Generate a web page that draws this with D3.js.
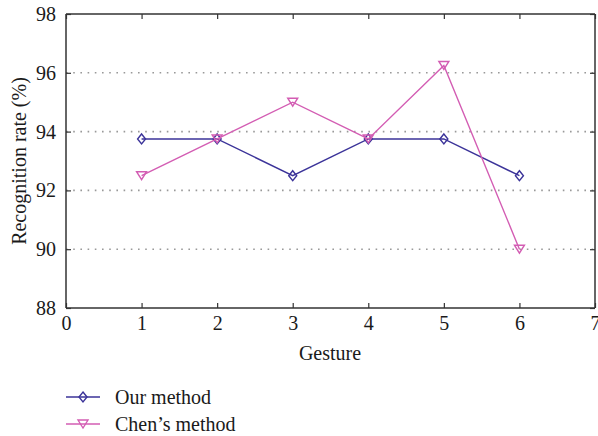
<!DOCTYPE html>
<html><head><meta charset="utf-8">
<script src="https://cdn.jsdelivr.net/npm/d3@7/dist/d3.min.js"></script>
<style>body{margin:0;background:#fff;} text{font-family:"Liberation Serif","DejaVu Serif",serif;fill:#1a1a1a;}</style>
</head><body>
<svg id="c" width="598" height="436"></svg>
<script>
const gestures = [1, 2, 3, 4, 5, 6];
const ourMethod = [93.75, 93.75, 92.5, 93.75, 93.75, 92.5];
const chenMethod = [92.5, 93.75, 95, 93.75, 96.25, 90];
const xTicks = [0, 1, 2, 3, 4, 5, 6, 7];
const yTicks = [88, 90, 92, 94, 96, 98];
const gridTicks = [90, 92, 94, 96];
const seriesNames = ["Our method", "Chen\u2019s method"];

const svg = d3.select("#c");
const L = 66, R = 595, T = 14, B = 308;
const x = d3.scaleLinear().domain([0, 7]).range([L, R]);
const y = d3.scaleLinear().domain([88, 98]).range([B, T]);
const blue = "#3b3399", pink = "#d35db3";

// grid
svg.append("g").selectAll("line").data(gridTicks).join("line")
  .attr("x1", L).attr("x2", R).attr("y1", d => y(d)).attr("y2", d => y(d))
  .attr("stroke", "#999").attr("stroke-width", 1.6).attr("stroke-dasharray", "1.6,5.6");

// axes
const fs = "20px";
const gx = svg.append("g").attr("transform", `translate(0,${B})`)
  .call(d3.axisBottom(x).tickValues(xTicks).tickSize(-5).tickPadding(8).tickFormat(d3.format("d")));
const gxt = svg.append("g").attr("transform", `translate(0,${T})`)
  .call(d3.axisTop(x).tickValues(xTicks).tickSize(-5).tickFormat(""));
const gy = svg.append("g").attr("transform", `translate(${L},0)`)
  .call(d3.axisLeft(y).tickValues(yTicks).tickSize(-5).tickPadding(10).tickFormat(d3.format("d")));
const gyr = svg.append("g").attr("transform", `translate(${R},0)`)
  .call(d3.axisRight(y).tickValues(yTicks).tickSize(-5).tickFormat(""));
[gx, gxt, gy, gyr].forEach(g => {
  g.selectAll("path").attr("stroke", "#333").attr("stroke-width", 1.5);
  g.selectAll("line").attr("stroke", "#333").attr("stroke-width", 1.2);
  g.selectAll("text").style("font-size", fs).style("font-family", "'Liberation Serif',serif").attr("fill", "#1a1a1a");
});
gx.selectAll("path").attr("d", `M${L},0H${R}`);
gxt.selectAll("path").attr("d", `M${L},0H${R}`);
gy.selectAll("path").attr("d", `M0,${T}V${B}`);
gyr.selectAll("path").attr("d", `M0,${T}V${B}`);

svg.append("text").attr("x", 330).attr("y", 360).attr("text-anchor", "middle")
  .style("font-size", fs).text("Gesture");
svg.append("text").attr("transform", `translate(26,${(T + B) / 2}) rotate(-90)`)
  .attr("text-anchor", "middle").style("font-size", fs).text("Recognition rate (%)");

const line = d3.line().x((d, i) => x(gestures[i])).y(d => y(d));
const diamond = "M0,-5L4,0L0,5L-4,0Z";
const tri = "M-5,-4L5,-4L0,4Z";

function drawSeries(vals, color, shape) {
  svg.append("path").datum(vals).attr("d", line).attr("fill", "none")
    .attr("stroke", color).attr("stroke-width", 1.4);
  svg.append("g").selectAll("path").data(vals).join("path")
    .attr("transform", (d, i) => `translate(${x(gestures[i])},${y(d)})`)
    .attr("d", shape).attr("fill", "none").attr("stroke", color).attr("stroke-width", 1.4);
}
drawSeries(ourMethod, blue, diamond);
drawSeries(chenMethod, pink, tri);

// legend
const leg = [{n: seriesNames[0], c: blue, s: diamond}, {n: seriesNames[1], c: pink, s: tri}];
leg.forEach((d, i) => {
  const yy = 397 + i * 27;
  svg.append("line").attr("x1", 66).attr("x2", 100).attr("y1", yy).attr("y2", yy)
    .attr("stroke", d.c).attr("stroke-width", 1.4);
  svg.append("path").attr("transform", `translate(83,${yy})`).attr("d", d.s)
    .attr("fill", "none").attr("stroke", d.c).attr("stroke-width", 1.4);
  svg.append("text").attr("x", 115).attr("y", yy + 7).style("font-size", fs).text(d.n);
});
</script>
</body></html>
